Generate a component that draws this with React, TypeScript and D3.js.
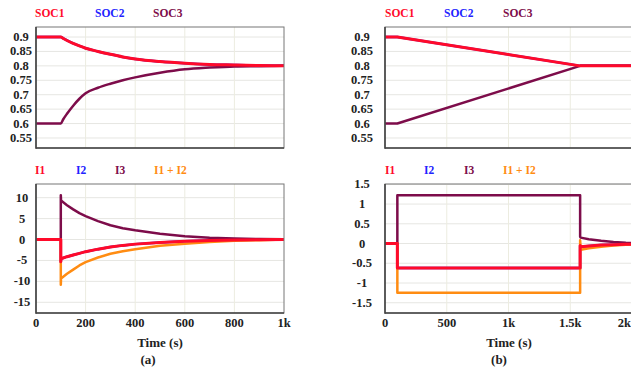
import * as d3 from 'd3';

// ---- data ----
const socSeries = ['SOC1', 'SOC2', 'SOC3'];
const curSeries = ['I1', 'I2', 'I3', 'I1 + I2'];

const socTicks = [0.55, 0.6, 0.65, 0.7, 0.75, 0.8, 0.85, 0.9];
const curTicksA = [-15, -10, -5, 0, 5, 10];
const curTicksB = [-1.5, -1, -0.5, 0, 0.5, 1, 1.5];
const timeTicksA = [0, 200, 400, 600, 800, 1000];
const timeTicksB = [0, 500, 1000, 1500, 2000];
const timeLabelsA = ['0', '200', '400', '600', '800', '1k'];
const timeLabelsB = ['0', '500', '1k', '1.5k', '2k'];

// (a) state of charge
const socTimeA = [0, 100, 110, 125, 150, 175, 200, 250, 300, 350, 400, 500, 600, 700, 800, 900, 1000];
const soc1A = [0.9, 0.9, 0.895, 0.888, 0.878, 0.869, 0.861, 0.85, 0.84, 0.831, 0.824, 0.815, 0.809, 0.805, 0.803, 0.801, 0.8];
const soc2A = [0.9, 0.9, 0.895, 0.888, 0.878, 0.869, 0.861, 0.85, 0.84, 0.831, 0.824, 0.815, 0.809, 0.805, 0.803, 0.801, 0.8];
const soc3A = [0.6, 0.6, 0.615, 0.634, 0.662, 0.686, 0.705, 0.724, 0.738, 0.75, 0.76, 0.776, 0.788, 0.794, 0.798, 0.799, 0.8];

// (a) currents
const curTimeA = [0, 100, 100, 101, 125, 150, 175, 200, 250, 300, 350, 400, 500, 600, 700, 800, 900, 1000];
const i1A = [0, 0, -5.3, -4.6, -4.1, -3.7, -3.3, -2.9, -2.3, -1.8, -1.4, -1.1, -0.7, -0.4, -0.25, -0.12, -0.06, 0];
const i2A = [0, 0, -5.3, -4.6, -4.1, -3.7, -3.3, -2.9, -2.3, -1.8, -1.4, -1.1, -0.7, -0.4, -0.25, -0.12, -0.06, 0];
const i3A = [0, 0, 10.6, 9.3, 8.2, 7.2, 6.3, 5.6, 4.4, 3.4, 2.7, 2.2, 1.4, 0.8, 0.45, 0.25, 0.12, 0.05];
const i12A = [0, 0, -10.8, -9.3, -8.2, -7.2, -6.2, -5.4, -4.3, -3.4, -2.8, -2.3, -1.5, -1.0, -0.6, -0.3, -0.15, 0];

// (b) state of charge
const socTimeB = [0, 100, 1580, 2100];
const soc1B = [0.9, 0.9, 0.8, 0.8];
const soc2B = [0.9, 0.9, 0.8, 0.8];
const soc3B = [0.6, 0.6, 0.8, 0.8];

// (b) currents
const curTimeB = [0, 100, 100, 1580, 1580, 1585, 1650, 1750, 1850, 1950, 2050];
const i1B = [0, 0, -0.62, -0.62, -0.05, -0.08, -0.06, -0.04, -0.03, -0.02, -0.01];
const i2B = [0, 0, -0.62, -0.62, -0.05, -0.08, -0.06, -0.04, -0.03, -0.02, -0.01];
const i3B = [0, 0, 1.22, 1.22, 0.17, 0.15, 0.11, 0.07, 0.04, 0.02, 0.01];
const i12B = [0, 0, -1.25, -1.25, 0.08, -0.16, -0.12, -0.08, -0.05, -0.03, -0.02];

const RED = '#ff0a2a';
const BLUE = '#2222ff';
const PURPLE = '#7d0c4a';
const ORANGE = '#ff8c12';
const FONT = "'Liberation Serif', 'Times New Roman', serif";

type Series = { name: string; color: string; t: number[]; v: number[]; w: number };

const txt = (size: number) => ({ fontFamily: FONT, fontWeight: 700, fontSize: size });

function Panel({
  x0, x1, y0, y1, xMax, yDomain, yTicks, yFmt, labelX, xTicks, xLabels, series, legend, legendX, clipId, smooth,
}: {
  x0: number; x1: number; y0: number; y1: number; xMax: number;
  yDomain: [number, number]; yTicks: number[]; yFmt: (d: number) => string; labelX: number;
  xTicks: number[]; xLabels: string[] | null; series: Series[];
  legend: { name: string; color: string }[]; legendX: number[]; clipId: string; smooth: boolean;
}) {
  const x = d3.scaleLinear().domain([0, xMax]).range([x0, x1]);
  const y = d3.scaleLinear().domain(yDomain).range([y1, y0]);
  const line = d3.line<[number, number]>().x(d => x(d[0])).y(d => y(d[1]))
    .curve(smooth ? d3.curveMonotoneX : d3.curveLinear);
  // draw order: blue under purple under orange under red
  const order = ['SOC2', 'I2', 'SOC3', 'I3', 'I1 + I2', 'SOC1', 'I1'];
  const sorted = [...series].sort((a, b) => order.indexOf(a.name) - order.indexOf(b.name));
  return (
    <g>
      <clipPath id={clipId}>
        <rect x={x0} y={y0} width={x1 - x0} height={y1 - y0} />
      </clipPath>
      {legend.map((l, i) => (
        <text key={l.name} x={legendX[i]} y={y0 - 10} fill={l.color} style={txt(11.5)}>{l.name}</text>
      ))}
      {yTicks.map(t => (
        <line key={'gy' + t} x1={x0} x2={x1} y1={y(t)} y2={y(t)} stroke="#e6e6e2" strokeWidth={1} />
      ))}
      {xTicks.slice(1, -1).map(t => (
        <line key={'gx' + t} x1={x(t)} x2={x(t)} y1={y0} y2={y1} stroke="#ecece0" strokeWidth={1} />
      ))}
      {yTicks.map(t => (
        <text key={'ty' + t} x={labelX} y={y(t) + 4} textAnchor="middle" fill="#222" style={txt(12.5)}>{yFmt(t)}</text>
      ))}
      {xLabels && xTicks.map((t, i) => {
        const px = x(t);
        const edge = px > 620;
        return (
          <text key={'tx' + t} x={edge ? 631 : px} y={y1 + 14} textAnchor={edge ? 'end' : 'middle'}
            fill="#222" style={txt(12.5)}>{xLabels[i]}</text>
        );
      })}
      <g clipPath={`url(#${clipId})`}>
        {sorted.map(s => (
          <path key={s.name} d={line(s.t.map((tt, i) => [tt, s.v[i]] as [number, number])) || ''}
            fill="none" stroke={s.color} strokeWidth={s.w} strokeLinejoin="round" />
        ))}
      </g>
      <rect x={x0} y={y0} width={x1 - x0} height={y1 - y0} fill="none" stroke="#777" strokeWidth={1} />
      <line x1={x0} x2={x0} y1={y0} y2={y1 + 0.75} stroke="#444" strokeWidth={1.6} />
      <line x1={x0} x2={x1} y1={y1} y2={y1} stroke="#444" strokeWidth={1.6} />
    </g>
  );
}

export default function App() {
  const socFmt = (d: number) => String(+d.toFixed(2));
  const curFmt = (d: number) => String(d);
  const socLegend = socSeries.map((n, i) => ({ name: n, color: [RED, BLUE, PURPLE][i] }));
  const curLegend = curSeries.map((n, i) => ({ name: n, color: [RED, BLUE, PURPLE, ORANGE][i] }));

  const socA: Series[] = [
    { name: 'SOC1', color: RED, t: socTimeA, v: soc1A, w: 3 },
    { name: 'SOC2', color: BLUE, t: socTimeA, v: soc2A, w: 2.5 },
    { name: 'SOC3', color: PURPLE, t: socTimeA, v: soc3A, w: 2.5 },
  ];
  const curA: Series[] = [
    { name: 'I1', color: RED, t: curTimeA, v: i1A, w: 3 },
    { name: 'I2', color: BLUE, t: curTimeA, v: i2A, w: 2.5 },
    { name: 'I3', color: PURPLE, t: curTimeA, v: i3A, w: 2.5 },
    { name: 'I1 + I2', color: ORANGE, t: curTimeA, v: i12A, w: 2.5 },
  ];
  const socB: Series[] = [
    { name: 'SOC1', color: RED, t: socTimeB, v: soc1B, w: 3 },
    { name: 'SOC2', color: BLUE, t: socTimeB, v: soc2B, w: 2.5 },
    { name: 'SOC3', color: PURPLE, t: socTimeB, v: soc3B, w: 2.5 },
  ];
  const curB: Series[] = [
    { name: 'I1', color: RED, t: curTimeB, v: i1B, w: 3 },
    { name: 'I2', color: BLUE, t: curTimeB, v: i2B, w: 2.5 },
    { name: 'I3', color: PURPLE, t: curTimeB, v: i3B, w: 2.5 },
    { name: 'I1 + I2', color: ORANGE, t: curTimeB, v: i12B, w: 2.5 },
  ];

  return (
    <svg width={631} height={375} style={{ position: 'absolute', left: 0, top: 0, background: '#fff' }}>
      <Panel x0={36} x1={284} y0={27} y1={148} xMax={1000} yDomain={[0.5153, 0.9347]}
        yTicks={socTicks} yFmt={socFmt} labelX={21} xTicks={timeTicksA} xLabels={null}
        series={socA} legend={socLegend} legendX={[35, 95, 153]} clipId="ca1" smooth={true} />
      <Panel x0={36} x1={284} y0={184} y1={313} xMax={1000} yDomain={[-17.56, 13.27]}
        yTicks={curTicksA} yFmt={curFmt} labelX={22} xTicks={timeTicksA} xLabels={timeLabelsA}
        series={curA} legend={curLegend} legendX={[35, 76, 115, 154]} clipId="ca2" smooth={false} />
      <Panel x0={385} x1={632} y0={27} y1={148} xMax={2000} yDomain={[0.5153, 0.9347]}
        yTicks={socTicks} yFmt={socFmt} labelX={362} xTicks={timeTicksB} xLabels={null}
        series={socB} legend={socLegend} legendX={[385, 444, 503]} clipId="cb1" smooth={false} />
      <Panel x0={385} x1={632} y0={184} y1={313} xMax={2000} yDomain={[-1.76, 1.508]}
        yTicks={curTicksB} yFmt={curFmt} labelX={362} xTicks={timeTicksB} xLabels={timeLabelsB}
        series={curB} legend={curLegend} legendX={[385, 424, 464, 503]} clipId="cb2" smooth={false} />
      <text x={160} y={347} textAnchor="middle" fill="#222" style={txt(13)}>Time (s)</text>
      <text x={148} y={364} textAnchor="middle" fill="#222" style={txt(13)}>(a)</text>
      <text x={509} y={347} textAnchor="middle" fill="#222" style={txt(13)}>Time (s)</text>
      <text x={499} y={364} textAnchor="middle" fill="#222" style={txt(13)}>(b)</text>
    </svg>
  );
}
